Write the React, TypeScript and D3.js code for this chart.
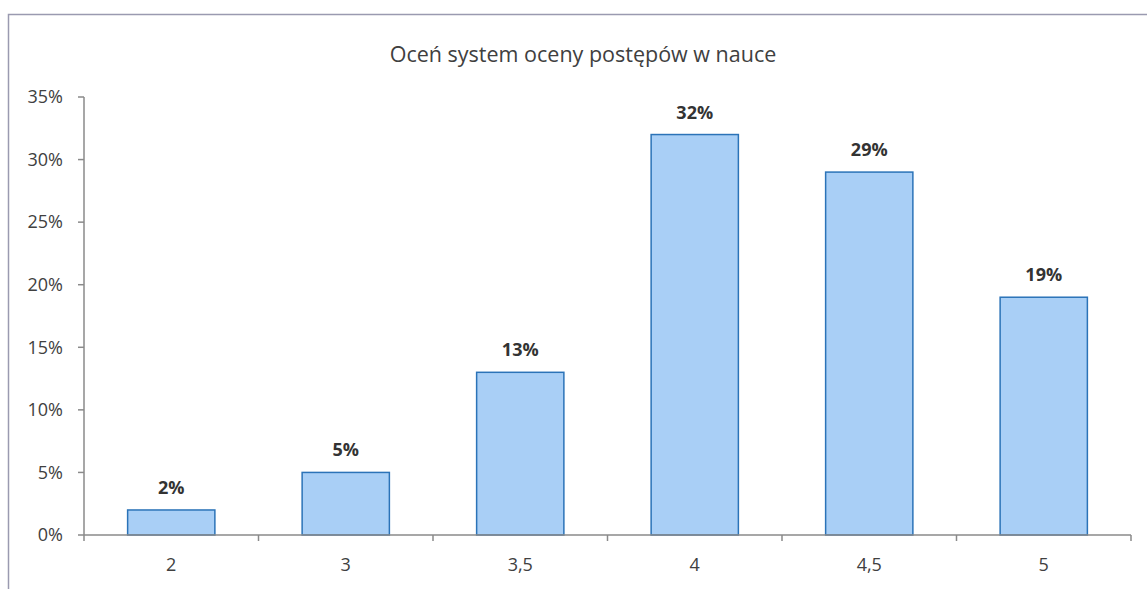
import React from "react";
import * as d3 from "d3";

const categories = ["2", "3", "3,5", "4", "4,5", "5"];
const values = [2, 5, 13, 32, 29, 19];
const yTicks = [0, 5, 10, 15, 20, 25, 30, 35];
const title = "Oceń system oceny postępów w nauce";

const W = 1147;
const H = 589;
const font = "'Open Sans', 'Noto Sans', sans-serif";

export default function App() {
  const left = 84;
  const right = 1131;
  const top = 97;
  const bottom = 535;
  const x = d3.scaleBand<string>().domain(categories).range([left, right]).paddingInner(0.5).paddingOuter(0.25);
  const xb = d3.scaleBand<string>().domain(categories).range([left, right]);
  const y = d3.scaleLinear().domain([0, 35]).range([bottom, top]);
  const axisColor = "#8a8a8a";
  return (
    <svg width={W} height={H} style={{ position: "absolute", left: 0, top: 0, background: "#fff" }}>
      <rect x={8.5} y={14.5} width={W + 20} height={H + 20} fill="#fff" stroke="#9a9ab0" strokeWidth={1.5} />
      <text x={583} y={62} textAnchor="middle" fontFamily={font} fontSize={21.5} fill="#404040">{title}</text>
      {/* y axis */}
      <line x1={left} x2={left} y1={y(35)} y2={bottom} stroke={axisColor} strokeWidth={1.5} />
      {yTicks.map((t) => (
        <g key={t}>
          <line x1={left - 6} x2={left} y1={y(t)} y2={y(t)} stroke={axisColor} strokeWidth={1.5} />
          <text x={63} y={y(t)} dy="0.35em" textAnchor="end" fontFamily={font} fontSize={18} fill="#404040">{t}%</text>
        </g>
      ))}
      {/* bars */}
      {categories.map((c, i) => (
        <g key={c}>
          <rect x={x(c)!} y={y(values[i])} width={x.bandwidth()} height={bottom - y(values[i])} fill="#a9cff6" stroke="#2b73b8" strokeWidth={1.5} />
          <text x={x(c)! + x.bandwidth() / 2} y={y(values[i]) - 16} textAnchor="middle" fontFamily={font} fontSize={18} fontWeight="bold" fill="#333">{values[i]}%</text>
        </g>
      ))}
      {/* x axis */}
      <line x1={left} x2={right} y1={bottom} y2={bottom} stroke={axisColor} strokeWidth={1.5} />
      {categories.map((c) => (
        <line key={"t" + c} x1={xb(c)!} x2={xb(c)!} y1={bottom} y2={bottom + 6} stroke={axisColor} strokeWidth={1.5} />
      ))}
      <line x1={right} x2={right} y1={bottom} y2={bottom + 6} stroke={axisColor} strokeWidth={1.5} />
      {categories.map((c) => (
        <text key={"l" + c} x={xb(c)! + xb.bandwidth() / 2} y={565} dy="0.35em" textAnchor="middle" fontFamily={font} fontSize={18} fill="#404040">{c}</text>
      ))}
    </svg>
  );
}
